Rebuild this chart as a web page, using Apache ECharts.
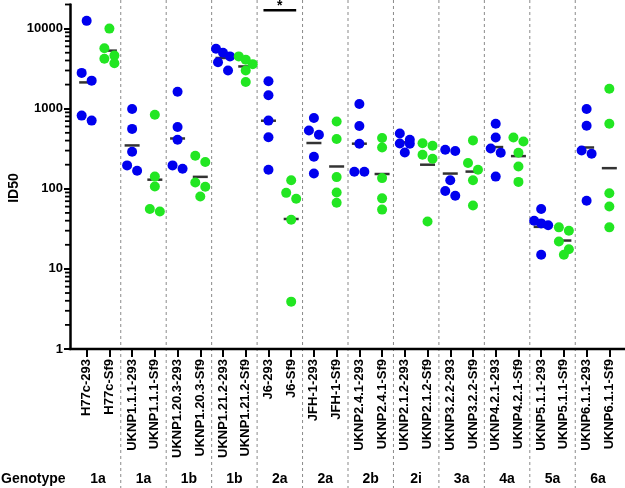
<!DOCTYPE html>
<html><head><meta charset="utf-8">
<script src="https://cdn.jsdelivr.net/npm/echarts@6/dist/echarts.min.js"></script>
<style>html,body{margin:0;padding:0;background:#fff}#c{width:625px;height:488px}</style>
</head><body><div id="c"></div>
<script>
// ---------------- data ----------------
const categories = [
  'H77c-293','H77c-Sf9','UKNP1.1.1-293','UKNP1.1.1-Sf9','UKNP1.20.3-293','UKNP1.20.3-Sf9',
  'UKNP1.21.2-293','UKNP1.21.2-Sf9','J6-293','J6-Sf9','JFH-1-293','JFH-1-Sf9',
  'UKNP2.4.1-293','UKNP2.4.1-Sf9','UKNP2.1.2-293','UKNP2.1.2-Sf9','UKNP3.2.2-293','UKNP3.2.2-Sf9',
  'UKNP4.2.1-293','UKNP4.2.1-Sf9','UKNP5.1.1-293','UKNP5.1.1-Sf9','UKNP6.1.1-293','UKNP6.1.1-Sf9'
];
const genotypes = ['1a','1a','1b','1b','2a','2a','2b','2i','3a','4a','5a','6a'];
// ID50 values, 293-cell produced (blue), one array per pair
const values293 = [
  [12500, 2800, 2240, 820, 710],
  [990, 560, 290, 196, 168],
  [1630, 590, 410, 196, 178],
  [5600, 5000, 4500, 3800, 3000],
  [2200, 1470, 710, 440, 173],
  [765, 535, 473, 251, 155],
  [1145, 608, 365, 163, 163],
  [491, 410, 368, 365, 284],
  [307, 296, 128, 94, 82],
  [649, 438, 319, 282, 142],
  [56, 40, 37, 35, 15],
  [991, 613, 301, 274, 71]
];
// ID50 values, Sf9-cell produced (green)
const valuesSf9 = [
  [10000, 5700, 4600, 4200, 3700],
  [840, 142, 107, 56, 52],
  [258, 216, 120, 106, 80],
  [4500, 4100, 3600, 3000, 2150],
  [128, 89, 75, 41, 3.9],
  [694, 418, 140, 90, 67],
  [430, 328, 136, 76, 55],
  [370, 345, 266, 237, 39],
  [402, 210, 173, 128, 62],
  [438, 390, 282, 190, 122],
  [33, 30, 22, 17.6, 15],
  [1778, 649, 88, 60, 33]
];
// geometric mean bars per category
const geoMeans = [2130, 5310, 348, 130, 425, 141, 4300, 3370, 708, 42, 373, 190,
                  366, 153, 380, 200, 155, 164, 332, 256, 33.5, 22.6, 328, 181];
const yTickValues = [1, 10, 100, 1000, 10000];
const yMinorTicks = [2,3,4,5,6,7,8,9, 20,30,40,50,60,70,80,90, 200,300,400,500,600,700,800,900,
                     2000,3000,4000,5000,6000,7000,8000,9000, 20000];
const sigPair = ['J6-293', 'J6-Sf9'];
const sigLabel = '*';
const sigLevel = 17000;

// ---------------- chart ----------------
const FONT = '"Liberation Sans", Arial, Helvetica, sans-serif';
const GRID = {left: 75.3, right: 4.3, top: 4.5, bottom: 139};
const Y_OFFSET = 5.3;
const BLUE = '#0000ee', GREEN = '#22e622';
const DOT = 10;

const chart = echarts.init(document.getElementById('c'), null, {renderer: 'canvas'});

function dotData(arrs, parity, offsets) {
  const out = [];
  arrs.forEach((vals, p) => {
    const ci = 2 * p + parity;
    vals.forEach((v, j) => {
      out.push({value: [ci, v], symbolOffset: [offsets ? offsets[ci][j] : 0, 0]});
    });
  });
  return out;
}

function baseOption(offsets) {
  return {
    animation: false,
    grid: GRID,
    xAxis: {
      type: 'category', data: categories, boundaryGap: true,
      axisLine: {show: false},
      axisTick: {show: true, alignWithLabel: true, length: 8, lineStyle: {color: '#000', width: 2}},
      axisLabel: {rotate: 90, interval: 0, fontSize: 13, fontWeight: 'bold', color: '#000', margin: 10, fontFamily: FONT},
      splitLine: {show: false}
    },
    yAxis: {
      type: 'log', logBase: 10, min: 1, max: 20000, offset: Y_OFFSET,
      axisLine: {show: true, lineStyle: {color: '#000', width: 2.5}},
      axisTick: {show: true, length: 6, lineStyle: {color: '#000', width: 2}},
      axisLabel: {fontSize: 13, fontWeight: 'bold', color: '#000', margin: 7, fontFamily: FONT,
        showMaxLabel: false,
        formatter: v => { const r = Math.round(v); return yTickValues.indexOf(r) >= 0 ? String(r) : ''; }},
      splitLine: {show: false}
    },
    series: [
      {type: 'scatter', name: 'mean', silent: true, z: 2, symbol: 'rect', symbolSize: [15, 2.5],
       itemStyle: {color: '#000'}, data: geoMeans.map((m, i) => [i, m])},
      {type: 'scatter', name: '293', silent: true, z: 3, symbolSize: DOT, itemStyle: {color: BLUE, opacity: 1},
       data: dotData(values293, 0, offsets)},
      {type: 'scatter', name: 'Sf9', silent: true, z: 3, symbolSize: DOT, itemStyle: {color: GREEN, opacity: 1},
       data: dotData(valuesSf9, 1, offsets)}
    ]
  };
}

chart.setOption(baseOption(null));

// row-based dodge layout computed from the library's pixel scale
const px = (ci, v) => chart.convertToPixel({gridIndex: 0}, [ci, v]);
const offsets = categories.map(() => []);
categories.forEach((c, ci) => {
  const vals = (ci % 2 === 0 ? values293 : valuesSf9)[Math.floor(ci / 2)];
  const order = vals.map((v, j) => ({j, y: px(ci, v)[1]})).sort((a, b) => a.y - b.y);
  const rows = [];
  order.forEach(p => {
    const row = rows[rows.length - 1];
    if (row && p.y - row[0].y < DOT * 0.9) row.push(p); else rows.push([p]);
  });
  rows.forEach(row => {
    const n = row.length;
    const sp = n <= 2 ? 10 : 7;
    row.forEach((p, i) => { offsets[ci][p.j] = (i - (n - 1) / 2) * sp; });
  });
});

const opt = baseOption(offsets);

// decorations
const axisX = GRID.left - Y_OFFSET;
const axisY = px(0, 1)[1];
const g = [];
for (let k = 1; k < genotypes.length; k++) {
  const x = (px(2 * k - 1, 1)[0] + px(2 * k, 1)[0]) / 2;
  g.push({type: 'line', z: 0, silent: true, shape: {x1: x, y1: 0, x2: x, y2: 488},
          style: {stroke: '#8a8a8a', lineWidth: 1, lineDash: [3, 3]}});
}
g.push({type: 'line', z: 10, silent: true, shape: {x1: axisX - 1.25, y1: axisY, x2: 625, y2: axisY},
        style: {stroke: '#000', lineWidth: 2.5}});
yMinorTicks.forEach(v => {
  const y = px(0, v)[1];
  g.push({type: 'line', z: 10, silent: true, shape: {x1: axisX - 5, y1: y, x2: axisX, y2: y},
          style: {stroke: '#000', lineWidth: 1.8}});
});
const sx1 = px(categories.indexOf(sigPair[0]), sigLevel)[0] - 5;
const sx2 = px(categories.indexOf(sigPair[1]), sigLevel)[0] + 5;
const sy = px(0, sigLevel)[1];
g.push({type: 'line', z: 10, silent: true, shape: {x1: sx1, y1: sy, x2: sx2, y2: sy},
        style: {stroke: '#000', lineWidth: 2.5}});
g.push({type: 'text', z: 10, silent: true, x: (sx1 + sx2) / 2, y: sy - 4,
        style: {text: sigLabel, fill: '#000', font: 'bold 14px ' + FONT, textAlign: 'center', textVerticalAlign: 'middle'}});
g.push({type: 'text', z: 10, silent: true, x: 1, y: 479,
        style: {text: 'Genotype', fill: '#000', font: 'bold 14px ' + FONT, textAlign: 'left', textVerticalAlign: 'middle'}});
genotypes.forEach((gt, k) => {
  const x = (px(2 * k, 1)[0] + px(2 * k + 1, 1)[0]) / 2;
  g.push({type: 'text', z: 10, silent: true, x: x, y: 479,
          style: {text: gt, fill: '#000', font: 'bold 14px ' + FONT, textAlign: 'center', textVerticalAlign: 'middle'}});
});
g.push({type: 'text', z: 10, silent: true, x: 14, y: 188, rotation: Math.PI / 2,
        style: {text: 'ID50', fill: '#000', font: 'bold 14px ' + FONT, textAlign: 'center', textVerticalAlign: 'middle'}});

opt.graphic = g;
chart.setOption(opt, true);
</script>
</body></html>
